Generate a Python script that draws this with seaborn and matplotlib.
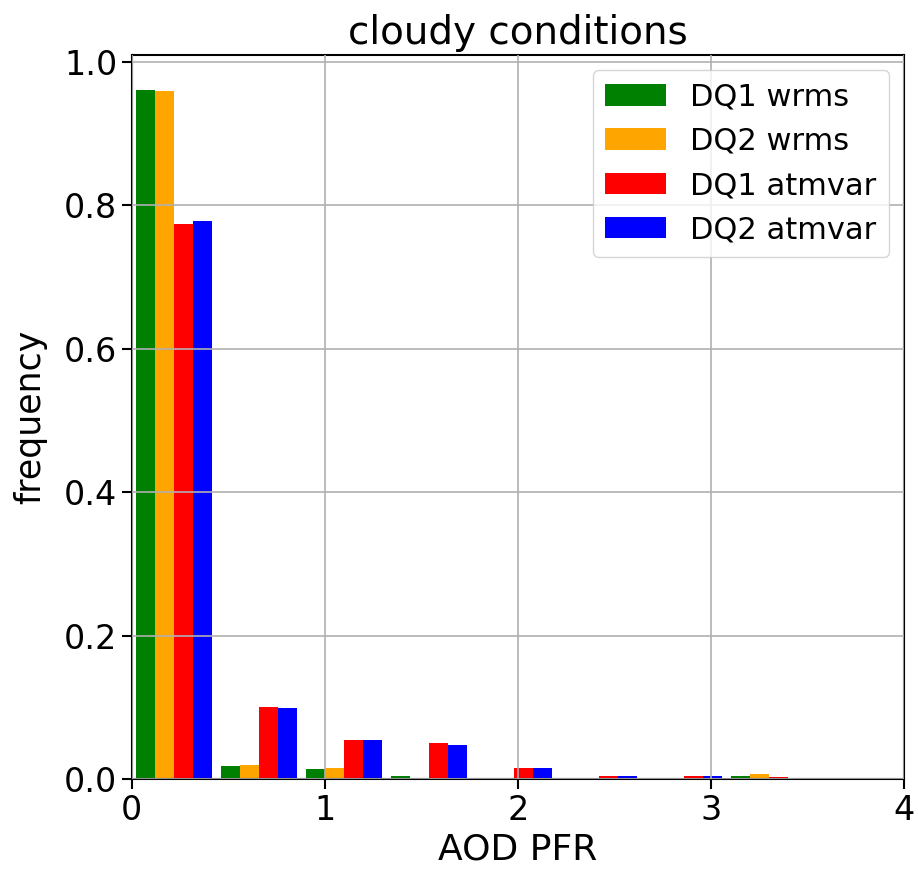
import matplotlib
matplotlib.use("Agg")
import matplotlib.pyplot as plt
import seaborn as sns
import pandas as pd
import numpy as np

# Histogram bins of AOD PFR and per-bin frequencies for each quality flag
bin_edges = [0.0, 0.44, 0.88, 1.32, 1.76, 2.20, 2.64, 3.08, 3.52, 3.96]
series_names = ["DQ1 wrms", "DQ2 wrms", "DQ1 atmvar", "DQ2 atmvar"]
dq1_wrms = [0.961, 0.018, 0.014, 0.005, 0.002, 0.0, 0.0, 0.005, 0.0]
dq2_wrms = [0.959, 0.020, 0.016, 0.0015, 0.0015, 0.0, 0.0, 0.007, 0.0]
dq1_atmvar = [0.774, 0.101, 0.055, 0.051, 0.015, 0.005, 0.005, 0.003, 0.0]
dq2_atmvar = [0.778, 0.099, 0.055, 0.048, 0.015, 0.005, 0.005, 0.002, 0.0]
colors = ["green", "orange", "red", "blue"]

edges = np.array(bin_edges)
centers = (edges[:-1] + edges[1:]) / 2
frames = []
for name, vals in zip(series_names, [dq1_wrms, dq2_wrms, dq1_atmvar, dq2_atmvar]):
    frames.append(pd.DataFrame({"AOD": centers, "freq": vals, "flag": name}))
df = pd.concat(frames, ignore_index=True)

fig, ax = plt.subplots(figsize=(9.18, 8.74), dpi=100)
fig.subplots_adjust(left=0.1435, right=0.985, bottom=0.1084, top=0.937)

sns.histplot(
    data=df, x="AOD", weights="freq", hue="flag",
    hue_order=series_names, palette=colors,
    bins=list(bin_edges), multiple="dodge", shrink=0.9,
    alpha=1, linewidth=0, ax=ax,
)

ax.set_xlim(0, 4)
ax.set_xticks([0, 1, 2, 3, 4])
ax.set_yticks([0.0, 0.2, 0.4, 0.6, 0.8, 1.0])
ax.grid(True, color="#b0b0b0", linewidth=1.2)
ax.set_axisbelow(False)
for s in ax.spines.values():
    s.set_linewidth(1.5)
    s.set_color("black")
ax.tick_params(labelsize=24, length=7, width=1.5)
ax.set_title("cloudy conditions", fontsize=28, pad=8)
ax.set_xlabel("AOD PFR", fontsize=26)
ax.set_ylabel("frequency", fontsize=25, labelpad=12)

sns.move_legend(ax, "upper right", title=None, fontsize=22, frameon=True)

fig.savefig("out.png", dpi=100)
